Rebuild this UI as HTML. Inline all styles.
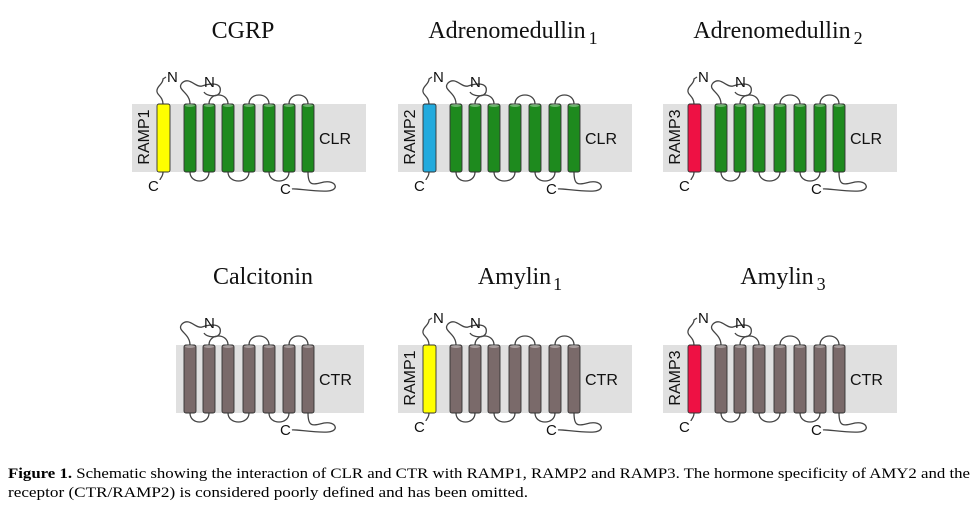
<!DOCTYPE html>
<html><head><meta charset="utf-8"><style>
html,body{margin:0;padding:0;background:#fff;}
svg{display:block;}
</style></head><body>
<svg id="s" width="977" height="506" viewBox="0 0 977 506" xmlns="http://www.w3.org/2000/svg" font-family="Liberation Sans, sans-serif">
<g font-family="Liberation Serif, serif" font-size="24" fill="#111" text-anchor="middle">
<text x="243" y="38">CGRP</text>
<text x="513" y="38">Adrenomedullin<tspan font-size="18" dy="6" dx="3">1</tspan></text>
<text x="778" y="38">Adrenomedullin<tspan font-size="18" dy="6" dx="3">2</tspan></text>
<text x="263" y="284">Calcitonin</text>
<text x="520" y="284">Amylin<tspan font-size="18" dy="6" dx="2">1</tspan></text>
<text x="783" y="284">Amylin<tspan font-size="18" dy="6" dx="3">3</tspan></text>
</g>
<g id="panels"></g>
<g font-family="Liberation Serif, serif" font-size="15" fill="#000">
<text x="8" y="478" textLength="962" lengthAdjust="spacingAndGlyphs"><tspan font-weight="bold">Figure 1.</tspan> Schematic showing the interaction of CLR and CTR with RAMP1, RAMP2 and RAMP3. The hormone specificity of AMY2 and the</text>
<text x="8" y="497" textLength="520" lengthAdjust="spacingAndGlyphs">receptor (CTR/RAMP2) is considered poorly defined and has been omitted.</text>
</g>
</svg>
<script>
const NS="http://www.w3.org/2000/svg";
const root=document.getElementById('panels');
function el(t,a,p){const e=document.createElementNS(NS,t);for(const k in a)e.setAttribute(k,a[k]);(p||root).appendChild(e);return e;}
function panel(dx,dy,rampColor,rampName,recColor,recName){
  const g=el('g',{transform:`translate(${dx},${dy})`});
  if(rampColor) el('rect',{x:132,y:104,width:234,height:68,fill:'#e0e0e0'},g);
  else el('rect',{x:176,y:104,width:188,height:68,fill:'#e0e0e0'},g);
  const hx=[184,203,222,243,263,283,302];
  const top=104,bot=172,w=12;
  const ln={fill:'none',stroke:'#444','stroke-width':1.3};
  el('path',Object.assign({d:`M${hx[0]+6},${top} C${hx[0]+6},92 ${hx[0]-8},90 ${hx[0]-2},83 C${hx[0]+5},76 ${hx[0]+12},88 ${hx[0]+18},86 C${hx[0]+30},82 ${hx[0]+38},84 ${hx[0]+36},92 C${hx[0]+34},98 ${hx[0]+22},96 ${hx[0]+20},92`},ln),g);
  [[1,2],[3,4],[5,6]].forEach(([a,b])=>{
    el('path',Object.assign({d:`M${hx[a]+6},${top} C${hx[a]+6},92 ${hx[b]+6},92 ${hx[b]+6},${top}`},ln),g);
  });
  [[0,1],[2,3],[4,5]].forEach(([a,b])=>{
    el('path',Object.assign({d:`M${hx[a]+6},${bot} C${hx[a]+6},184 ${hx[b]+6},184 ${hx[b]+6},${bot}`},ln),g);
  });
  el('path',Object.assign({d:`M${hx[6]+6},${bot} C${hx[6]+6},186 ${hx[6]+10},185 ${hx[6]+22},182 C${hx[6]+34},180 ${hx[6]+38},190 ${hx[6]+26},191 C${hx[6]+14},192 ${hx[6]-8},188 ${hx[6]-10},189`},ln),g);
  el('text',{x:280,y:194,'font-size':15,fill:'#111'},g).textContent='C';
  el('text',{x:204,y:87,'font-size':15,fill:'#111'},g).textContent='N';
  hx.forEach(x=>{
    el('rect',{x:x,y:top,width:w,height:bot-top,rx:2,fill:recColor,stroke:'#333','stroke-width':0.9},g);
    el('ellipse',{cx:x+w/2,cy:top+1.5,rx:w/2-1,ry:1.5,fill:'rgba(255,255,255,0.35)'},g);
  });
  el('text',{x:319,y:144,'font-size':16,fill:'#111'},g).textContent=recName;
  if(rampColor){
    el('path',Object.assign({d:`M163,${top} C163,96 156,95 157,90 C158,85 163,84 163,79 L166,77`},ln),g);
    el('path',Object.assign({d:`M163,${bot} C163,177 160,178 160,180`},ln),g);
    el('rect',{x:157,y:top,width:13,height:bot-top,rx:2,fill:rampColor,stroke:'#333','stroke-width':0.9},g);
    el('text',{x:167,y:82,'font-size':15,fill:'#111'},g).textContent='N';
    el('text',{x:148,y:191,'font-size':15,fill:'#111'},g).textContent='C';
    el('text',{x:0,y:0,'font-size':16,fill:'#111','text-anchor':'middle',transform:'translate(149,137) rotate(-90)'},g).textContent=rampName;
  }
}
const green='#1e8a1e',grey='#7a6a6a';
panel(0,0,'#ffff00','RAMP1',green,'CLR');
panel(266,0,'#22aadd','RAMP2',green,'CLR');
panel(531,0,'#ee1144','RAMP3',green,'CLR');
panel(0,241,null,'',grey,'CTR');
panel(266,241,'#ffff00','RAMP1',grey,'CTR');
panel(531,241,'#ee1144','RAMP3',grey,'CTR');
</script>
</body></html>
